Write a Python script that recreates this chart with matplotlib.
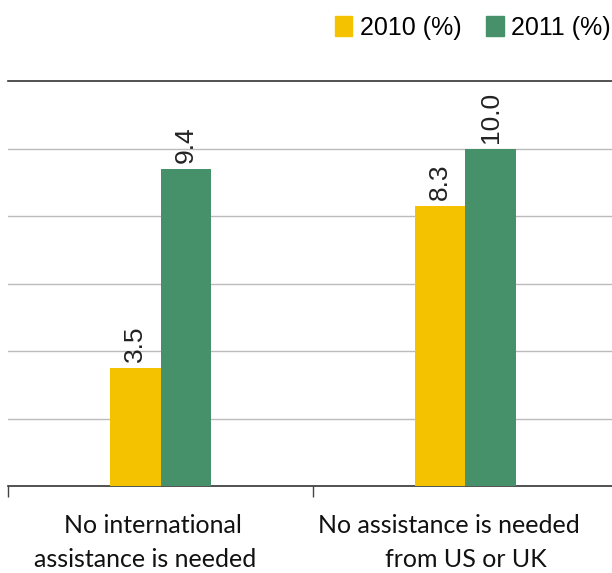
import matplotlib
matplotlib.use("Agg")
import matplotlib.pyplot as plt
import matplotlib.transforms as mtransforms
from matplotlib.patches import Patch
import numpy as np

categories = [["No international", "assistance is needed"],
              ["No assistance is needed", "from US or UK"]]
series_names = ["2010 (%)", "2011 (%)"]
values_2010 = [3.5, 8.3]
values_2011 = [9.4, 10.0]

YELLOW = "#F5C200"
GREEN = "#46916A"

fig = plt.figure(figsize=(6.12, 5.73), dpi=100)
ax = fig.add_axes([8 / 612, 87 / 573, 610 / 612, 405 / 573])

x = np.arange(len(categories))
width = 0.167
bars_a = ax.bar(x - width / 2, values_2010, width, color=YELLOW, zorder=3)
bars_b = ax.bar(x + width / 2, values_2011, width, color=GREEN, zorder=3)

for bars, vals in ((bars_a, values_2010), (bars_b, values_2011)):
    for b, v in zip(bars, vals):
        ax.annotate(f"{v:.1f}", (b.get_x() + b.get_width() / 2, v),
                    xytext=(0, 4), textcoords="offset points",
                    rotation=90, ha="center", va="bottom",
                    fontsize=19, family="Liberation Sans", color="#222222")

ax.set_xlim(-0.5, 1.5)
ax.set_ylim(0, 12)
ax.set_yticks(np.arange(2, 12, 2))
ax.yaxis.grid(True, color="#BBBBBB", linewidth=1.0, zorder=0)
ax.tick_params(axis="y", left=False, labelleft=False)

ax.set_xticks([-0.5, 0.5, 1.5], minor=False)
ax.set_xticklabels(["", "", ""])
ax.tick_params(axis="x", length=8, width=1, color="#444444", direction="out")

# wrapped category labels, one text per line (pixel nudges per line)
nudges = [[-8, -15], [-17, 0]]
for xi, lines, dx in zip(x, categories, nudges):
    for row, (line, d) in enumerate(zip(lines, dx)):
        off = mtransforms.ScaledTranslation(d / 100, -(28 + 34 * row) / 100,
                                            fig.dpi_scale_trans)
        ax.text(xi, 0, line, ha="center", va="top", fontsize=18,
                family="Lato", color="#111111",
                transform=ax.transData + off)

for side in ("left", "right"):
    ax.spines[side].set_visible(False)
ax.spines["bottom"].set_color("#333333")
ax.spines["top"].set_color("#333333")
ax.spines["bottom"].set_linewidth(1.2)
ax.spines["top"].set_linewidth(1.2)

handles = [Patch(color=YELLOW), Patch(color=GREEN)]
fig.legend(handles, series_names, loc="upper right",
           bbox_to_anchor=(1.035, 1.012), ncol=2, frameon=False,
           prop={"family": "Liberation Sans", "size": 18},
           handlelength=0.7, handleheight=0.85, handletextpad=0.3,
           columnspacing=1.0)

fig.savefig("out.png", dpi=100)
